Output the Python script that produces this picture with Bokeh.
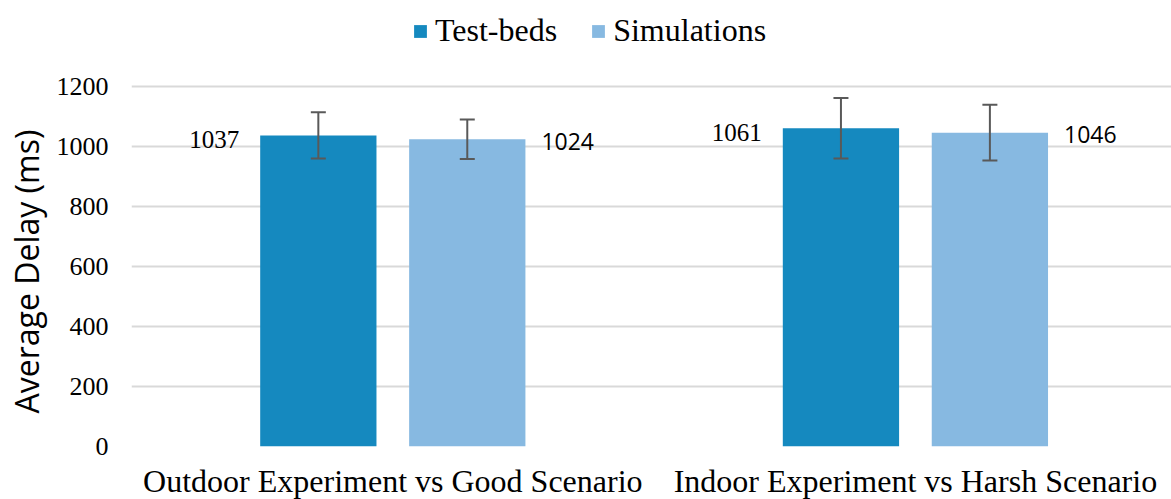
from bokeh.plotting import figure
from bokeh.models import ColumnDataSource, Range1d, FixedTicker, Whisker, TeeHead, Legend, LegendItem, Title
from bokeh.core.properties import value
from bokeh.embed import file_html
from bokeh.resources import INLINE

# ---- data ----
categories = ["Outdoor Experiment vs Good Scenario", "Indoor Experiment vs Harsh Scenario"]
series_names = ["Test-beds", "Simulations"]
testbeds = [1037, 1061]
simulations = [1024, 1046]
testbeds_err = [77, 101]
simulations_err = [66, 93]
y_ticks = [0, 200, 400, 600, 800, 1000, 1200]
y_title = "Average Delay (ms)"

# ---- style ----
C_TB = "#1589BF"
C_SIM = "#87B9E1"
C_ERR = "#595959"
OFF = 0.1425
BW = 0.2225
SERIF = "Liberation Serif"
SANS = "Open Sans"

idx = list(range(len(categories)))

p = figure(frame_width=1040, frame_height=446,
           x_range=Range1d(-0.5, 1.49), y_range=Range1d(0, 1486.7),
           output_backend="svg", toolbar_location=None,
           min_border_left=131, min_border_right=0,
           min_border_top=0, min_border_bottom=53)

src_tb = ColumnDataSource(dict(
    x=[i - OFF for i in idx], top=testbeds,
    upper=[v + e for v, e in zip(testbeds, testbeds_err)],
    lower=[v - e for v, e in zip(testbeds, testbeds_err)],
    lx=[i - OFF - BW / 2 for i in idx],
    txt=[str(v) for v in testbeds]))
src_sim = ColumnDataSource(dict(
    x=[i + OFF for i in idx], top=simulations,
    upper=[v + e for v, e in zip(simulations, simulations_err)],
    lower=[v - e for v, e in zip(simulations, simulations_err)],
    lx=[i + OFF + BW / 2 for i in idx],
    txt=[str(v) for v in simulations]))

r_tb = p.vbar(x="x", top="top", width=BW, bottom=0, source=src_tb,
              fill_color=C_TB, line_color=None)
r_sim = p.vbar(x="x", top="top", width=BW, bottom=0, source=src_sim,
               fill_color=C_SIM, line_color=None)

for s in (src_tb, src_sim):
    w = Whisker(base="x", upper="upper", lower="lower", source=s,
                line_color=C_ERR, line_width=2,
                upper_head=TeeHead(size=15, line_color=C_ERR, line_width=2),
                lower_head=TeeHead(size=15, line_color=C_ERR, line_width=2))
    w.level = "overlay"
    p.add_layout(w)

p.text(x="lx", y="top", text="txt", source=src_tb, text_align="right",
       text_baseline="middle", x_offset=-21, y_offset=4,
       text_font=value(SERIF), text_font_size="25px", text_color="black")
p.text(x="lx", y="top", text="txt", source=src_sim, text_align="left",
       text_baseline="middle", x_offset=16, y_offset=2,
       text_font=value(SANS), text_font_size="23px", text_color="black")

# axes
p.xgrid.visible = False
p.ygrid.grid_line_color = "#D9D9D9"
p.ygrid.grid_line_width = 2
p.outline_line_color = None

p.yaxis.ticker = FixedTicker(ticks=y_ticks)
p.yaxis.axis_line_color = None
p.yaxis.major_tick_line_color = None
p.yaxis.minor_tick_line_color = None
p.yaxis.major_label_text_font = SERIF
p.yaxis.major_label_text_font_size = "26px"
p.yaxis.major_label_text_color = "black"
p.yaxis.major_label_standoff = 17

ytitle = Title(text=y_title, align="left", offset=33, standoff=8,
               vertical_align="top",
               text_font=SANS, text_font_size="32px", text_font_style="normal",
               text_color="black")
p.add_layout(ytitle, "left")

p.xaxis.ticker = FixedTicker(ticks=idx)
p.xaxis.major_label_overrides = {i: c for i, c in zip(idx, categories)}
p.xaxis.axis_line_color = None
p.xaxis.major_tick_line_color = None
p.xaxis.minor_tick_line_color = None
p.xaxis.major_label_text_font = SERIF
p.xaxis.major_label_text_font_size = "32px"
p.xaxis.major_label_text_color = "black"
p.xaxis.major_label_standoff = 10

legend = Legend(items=[LegendItem(label=series_names[0], renderers=[r_tb]),
                       LegendItem(label=series_names[1], renderers=[r_sim])],
                location=(281, 397), orientation="horizontal",
                background_fill_alpha=0, border_line_color=None,
                padding=0, margin=0, spacing=33, label_standoff=7,
                glyph_width=16, glyph_height=16,
                label_text_font=SERIF, label_text_font_size="32px",
                label_text_color="black")
p.add_layout(legend)

open("out.html", "w").write(file_html(p, INLINE))
